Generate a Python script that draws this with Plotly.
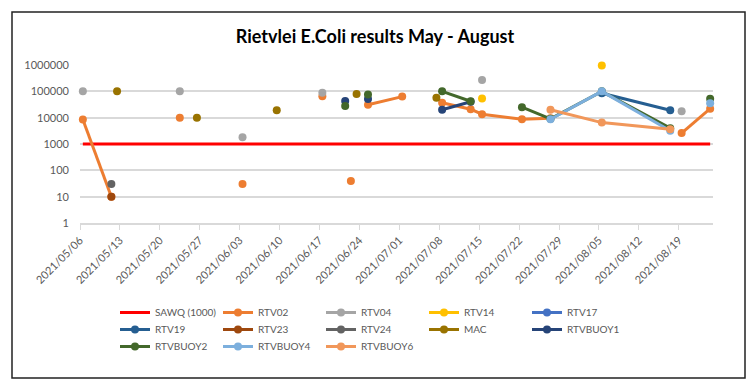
import plotly.graph_objects as go

N = None
dates = ["2021-05-06", "2021-05-11", "2021-05-12", "2021-05-23", "2021-05-26", "2021-06-03",
         "2021-06-09", "2021-06-17", "2021-06-21", "2021-06-22", "2021-06-23", "2021-06-25",
         "2021-07-01", "2021-07-07", "2021-07-08", "2021-07-13", "2021-07-15", "2021-07-22",
         "2021-07-27", "2021-08-05", "2021-08-17", "2021-08-19", "2021-08-24"]

sawq     = [1000, 1000, 1000, 1000, 1000, 1000, 1000, 1000, 1000, 1000, 1000, 1000,
            1000, 1000, 1000, 1000, 1000, 1000, 1000, 1000, 1000, 1000, 1000]
rtv02    = [8500, 10, N, 10000, N, 30, N, 65000, N, 39, N, 31000,
            63000, N, 37000, 21000, 13500, 8700, 9500, N, N, 2600, 22000]
rtv04    = [100000, N, N, 100000, N, 1800, N, 89000, N, N, N, N,
            N, N, N, N, 270000, N, N, N, N, 17500, N]
rtv14    = [N, N, N, N, N, N, N, N, N, N, N, N,
            N, N, N, N, 53000, N, N, 950000, N, N, N]
rtv17    = [N, N, N, N, N, N, N, N, N, N, N, N,
            N, N, N, N, N, N, N, N, N, N, N]
rtv19    = [N, N, N, N, N, N, N, N, N, N, N, N,
            N, N, N, N, N, N, N, 85000, 19000, N, N]
rtv23    = [N, 10, N, N, N, N, N, N, N, N, N, N,
            N, N, N, N, N, N, N, N, N, N, N]
rtv24    = [N, 30, N, N, N, N, N, N, N, N, N, N,
            N, N, N, N, N, N, N, N, N, N, N]
mac      = [N, N, 100000, N, 10000, N, 19000, N, N, N, 80000, N,
            N, 57000, N, N, N, N, N, N, N, N, N]
rtvbuoy1 = [N, N, N, N, N, N, N, N, 43000, N, N, 51000,
            N, N, 20000, 40000, N, N, N, N, N, N, N]
rtvbuoy2 = [N, N, N, N, N, N, N, N, 28000, N, N, 75000,
            N, N, 100000, 42000, N, 25000, 9000, 100000, 4000, N, 52000]
rtvbuoy4 = [N, N, N, N, N, N, N, N, N, N, N, N,
            N, N, N, N, N, N, 8700, 100000, 3200, N, 35000]
rtvbuoy6 = [N, N, N, N, N, N, N, N, N, N, N, N,
            N, N, N, N, N, N, 20000, 6500, 3600, N, N]

# (name, values, colour, legend row)
series = [
    ("RTV02", rtv02, "#ED7D31", "legend"),
    ("RTV04", rtv04, "#A5A5A5", "legend"),
    ("RTV14", rtv14, "#FFC000", "legend"),
    ("RTV17", rtv17, "#4472C4", "legend"),
    ("RTV19", rtv19, "#255E91", "legend2"),
    ("RTV23", rtv23, "#9E480E", "legend2"),
    ("RTV24", rtv24, "#636363", "legend2"),
    ("MAC", mac, "#997300", "legend2"),
    ("RTVBUOY1", rtvbuoy1, "#264478", "legend2"),
    ("RTVBUOY2", rtvbuoy2, "#43682B", "legend3"),
    ("RTVBUOY4", rtvbuoy4, "#7CAFDD", "legend3"),
    ("RTVBUOY6", rtvbuoy6, "#F1975A", "legend3"),
]

tick_vals = [1, 10, 100, 1000, 10000, 100000, 1000000]
tick_text = ["1", "10", "100", "1000", "10000", "100000", "1000000"]

FONT = "Lato"
DAY = 24 * 3600 * 1000
fig = go.Figure()
fig.add_trace(go.Scatter(x=dates, y=sawq, name="SAWQ (1000)", mode="lines",
                         xperiod=DAY, xperiodalignment="middle", legend="legend",
                         cliponaxis=False,
                         line=dict(color="#FF0000", width=3)))
for name, vals, col, lg in series:
    fig.add_trace(go.Scatter(x=dates, y=vals, name=name, mode="lines+markers",
                             connectgaps=False, legend=lg, cliponaxis=False,
                             xperiod=DAY, xperiodalignment="middle",
                             line=dict(color=col, width=3),
                             marker=dict(color=col, size=8)))

L, R, T, B = 80, 37, 65, 162
pw, ph = 750 - L - R, 385 - T - B
def px(x): return (x - L) / pw
def py(y): return (385 - B - y) / ph

def leg(top):
    return dict(orientation="h", x=px(115), xanchor="left", y=py(top), yanchor="top",
                font=dict(family=FONT, size=10, color="#595959"),
                entrywidth=58, entrywidthmode="pixels", itemwidth=30,
                bgcolor="rgba(0,0,0,0)")

fig.update_layout(
    width=750, height=385,
    margin=dict(l=L, r=R, t=T, b=B),
    paper_bgcolor="white", plot_bgcolor="white",
    font=dict(family=FONT, size=11, color="#595959"),
    title=dict(text="<b>Rietvlei E.Coli results May - August</b>", x=0.5, xanchor="center",
               y=1 - 37 / 385, yanchor="middle",
               font=dict(family=FONT, size=18, color="#000000")),
    showlegend=True,
    legend=leg(298), legend2=leg(315), legend3=leg(332),
    xaxis=dict(type="date", range=["2021-05-06", "2021-08-25"],
               tick0="2021-05-06", dtick=7 * DAY, tickformat="%Y/%m/%d",
               tickangle=-45, ticks="outside", ticklen=5, tickcolor="#D9D9D9",
               showline=True, linecolor="#D9D9D9", linewidth=1.5,
               showgrid=False, zeroline=False,
               tickfont=dict(family=FONT, size=11, color="#595959")),
    yaxis=dict(type="log", range=[0, 6], tickvals=tick_vals, ticktext=tick_text,
               showgrid=True, gridcolor="#D9D9D9", gridwidth=1.5,
               showline=False, zeroline=False, ticks="", ticklabelstandoff=10,
               tickfont=dict(family=FONT, size=11, color="#595959")),
    shapes=[dict(type="rect", xref="paper", yref="paper",
                 x0=px(12), x1=px(745), y0=py(378), y1=py(12),
                 line=dict(color="#222222", width=1.5), fillcolor="rgba(0,0,0,0)", layer="below")],
)

fig.write_html("out.html", config={"displayModeBar": False},
               post_script="document.body.style.margin='0';")
